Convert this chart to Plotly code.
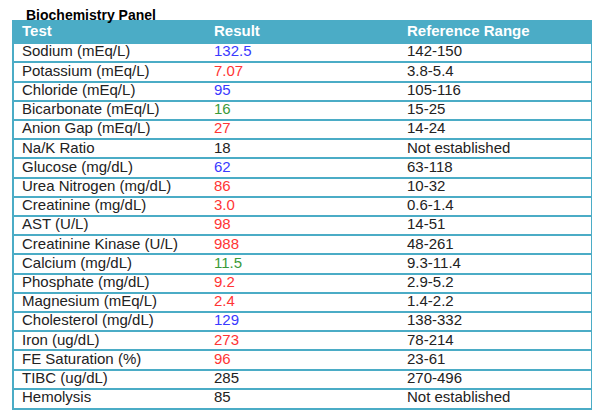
import plotly.graph_objects as go

# --- data ---
tests = ["Sodium (mEq/L)", "Potassium (mEq/L)", "Chloride (mEq/L)", "Bicarbonate (mEq/L)",
         "Anion Gap (mEq/L)", "Na/K Ratio", "Glucose (mg/dL)", "Urea Nitrogen (mg/dL)",
         "Creatinine (mg/dL)", "AST (U/L)", "Creatinine Kinase (U/L)", "Calcium (mg/dL)",
         "Phosphate (mg/dL)", "Magnesium (mEq/L)", "Cholesterol (mg/dL)", "Iron (ug/dL)",
         "FE Saturation (%)", "TIBC (ug/dL)", "Hemolysis"]
results = ["132.5", "7.07", "95", "16", "27", "18", "62", "86", "3.0", "98", "988",
           "11.5", "9.2", "2.4", "129", "273", "96", "285", "85"]
ref_ranges = ["142-150", "3.8-5.4", "105-116", "15-25", "14-24", "Not established",
              "63-118", "10-32", "0.6-1.4", "14-51", "48-261", "9.3-11.4", "2.9-5.2",
              "1.4-2.2", "138-332", "78-214", "23-61", "270-496", "Not established"]
flags = ["low", "high", "low", "mid", "high", "none", "low", "high", "high", "high", "high",
         "mid", "high", "high", "low", "high", "high", "none", "none"]
headers = ["Test", "Result", "Reference Range"]

# --- style ---
TEAL = "#4bacc6"
INK = "#222222"
flag_colors = {"low": "#3a3aff", "high": "#ff3535", "mid": "#3a9a3a", "none": INK}
FONT = "Arial, Liberation Sans, sans-serif"
TABLE_W = 577
col_x = [8, 200, 393]
HEADER_H = 1.1

# page body has an 8px margin, so the figure is a bit smaller and shifted
W, H = 592, 402

n = len(tests)
rows = list(range(n))
header_y = -0.5 - HEADER_H / 2

fig = go.Figure()

# header band
fig.add_trace(go.Bar(
    orientation="h", y=[header_y], x=[TABLE_W], base=0, width=HEADER_H,
    marker=dict(color=TEAL, line=dict(width=0)), hoverinfo="skip", showlegend=False
))

# header labels
fig.add_trace(go.Scatter(
    x=col_x, y=[header_y] * 3, mode="text", text=headers, textposition="middle right",
    textfont=dict(family=FONT, size=15, color="white", weight="bold"),
    hoverinfo="skip", showlegend=False
))

# columns
for i, (col, colors) in enumerate([(tests, INK), (results, [flag_colors[f] for f in flags]),
                                    (ref_ranges, INK)]):
    fig.add_trace(go.Scatter(
        x=[col_x[i]] * n, y=rows, mode="text", text=col, textposition="middle right",
        textfont=dict(family=FONT, size=15, color=colors),
        hoverinfo="skip", showlegend=False
    ))

fig.update_layout(
    width=W, height=H,
    margin=dict(l=6, r=W - 6 - TABLE_W, t=14, b=2),
    paper_bgcolor="white", plot_bgcolor="white",
    title=dict(text="Biochemistry Panel", x=18 / W, xref="container", xanchor="left",
               y=1 - 7 / H, yref="container", yanchor="middle",
               font=dict(family=FONT, size=14, color="black", weight="bold")),
    xaxis=dict(range=[0, TABLE_W], showgrid=False, zeroline=False, showticklabels=False,
               ticks="", showline=True, mirror=True, linecolor=TEAL, linewidth=2, fixedrange=True),
    yaxis=dict(range=[n - 0.5, -0.5 - HEADER_H], showgrid=True, gridcolor=TEAL, gridwidth=2,
               tickvals=[r - 0.5 for r in rows], showticklabels=False, ticks="",
               zeroline=False, showline=True, mirror=True, linecolor=TEAL, linewidth=2,
               fixedrange=True),
    showlegend=False,
)

fig.write_html("out.html")
